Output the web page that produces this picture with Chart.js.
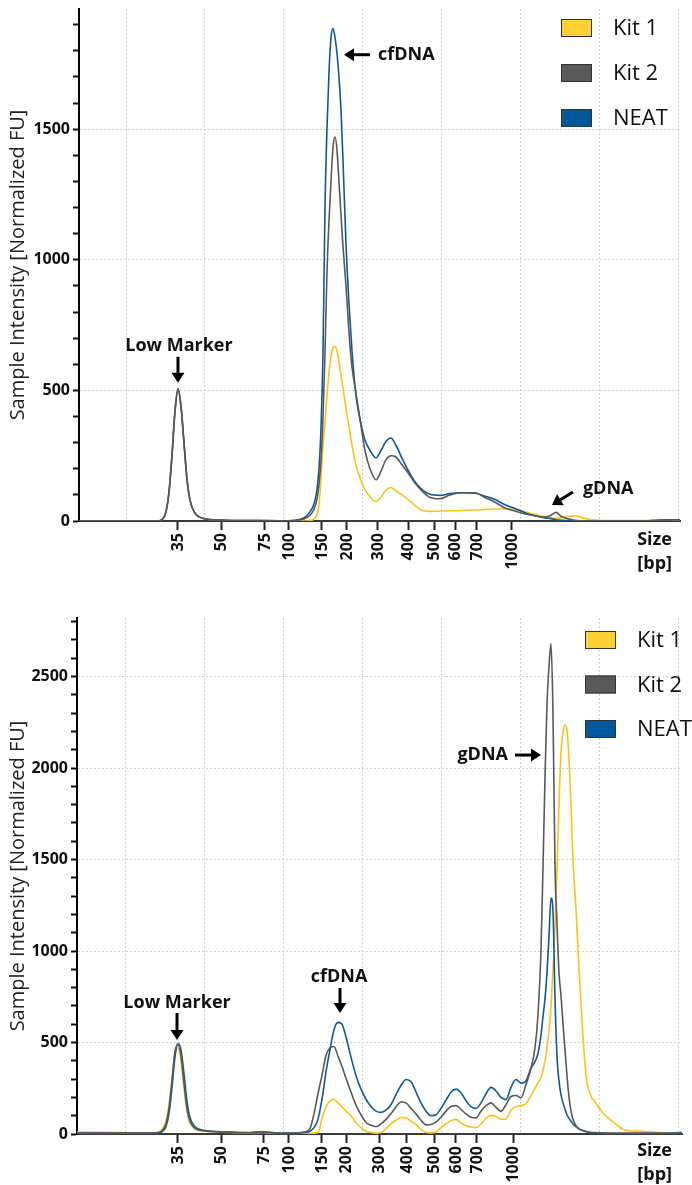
<!DOCTYPE html>
<html>
<head>
<meta charset="utf-8">
<script src="https://cdn.jsdelivr.net/npm/chart.js@4.4.1/dist/chart.umd.min.js"></script>
<style>
html,body{margin:0;padding:0;background:#fff;}
#wrap{position:relative;width:692px;height:1185px;overflow:hidden;}
#c1{position:absolute;left:0;top:0;}
#c2{position:absolute;left:0;top:580px;}
</style>
</head>
<body>
<div id="wrap">
<canvas id="c1" width="692" height="580"></canvas>
<canvas id="c2" width="692" height="605"></canvas>
</div>
<script>
// ---------- data ----------
const seriesNames = ['Kit 1', 'Kit 2', 'NEAT'];
const bpLabels = ['35','50','75','100','150','200','300','400','500','600','700','1000'];
const topBpPos = [16.58, 22.03, 27.59, 30.63, 34.81, 37.97, 41.90, 45.70, 48.99, 51.65, 54.43, 58.86];
const bottomBpPos = [16.58, 22.03, 27.47, 30.63, 34.81, 37.85, 42.03, 45.57, 48.99, 51.77, 54.43, 58.99];
const gridTimes = [10, 20, 30, 40, 50, 60, 70, 80];

// top electropherogram (migration time units)
const topTime = [4.05, 9.24, 13.04, 14.05, 14.56, 15.06, 15.44, 15.82, 16.20, 16.58,
  16.96, 17.34, 17.72, 18.10, 18.73, 19.37, 20.63, 22.53, 25.70, 29.49,
  31.39, 32.66, 33.29, 33.80, 34.18, 34.43, 34.68, 34.94, 35.19, 35.44,
  35.70, 35.95, 36.20, 36.46, 36.71, 36.96, 37.22, 37.47, 37.85, 38.23,
  38.61, 39.11, 39.62, 40.25, 40.89, 41.65, 42.28, 42.91, 43.54, 44.18,
  44.94, 45.70, 46.58, 47.47, 48.48, 49.75, 51.01, 52.53, 54.18, 55.44,
  56.71, 57.97, 59.24, 60.51, 61.77, 63.04, 63.80, 64.43, 65.06, 65.70,
  66.46, 67.09, 67.72, 68.73, 70.00, 72.53, 75.06, 77.59, 80.13];
const topKit1 = [0, 0, 0, 0, 5, 35, 110, 250, 420, 505,
  440, 300, 160, 80, 30, 14, 6, 3, 2, 1,
  1, 0, 2, 8, 25, 60, 160, 290, 380, 480,
  570, 630, 662, 668, 650, 610, 555, 510, 430, 360,
  290, 215, 165, 120, 92, 74, 92, 118, 128, 115,
  100, 82, 60, 40, 37, 38, 39, 40, 42, 44,
  46, 47, 44, 34, 25, 16, 12, 10, 12, 16,
  19, 19, 12, 6, 3, 2, 2, 2, 3];
const topKit2 = [0, 0, 0, 0, 5, 35, 110, 250, 420, 505,
  440, 300, 160, 80, 30, 14, 6, 3, 2, 1,
  2, 10, 22, 45, 85, 140, 230, 400, 643, 950,
  1150, 1300, 1430, 1470, 1420, 1300, 1170, 1050, 900, 720,
  590, 490, 390, 270, 200, 158, 190, 235, 250, 245,
  215, 185, 145, 115, 90, 85, 100, 108, 108, 90,
  72, 50, 38, 27, 20, 15, 22, 33, 18, 10,
  5, 2, 1, 0, 0, 0, 0, 3, 5];
const topNeat = [0, 0, 0, 0, 5, 35, 110, 250, 420, 505,
  440, 300, 160, 80, 30, 14, 6, 3, 2, 1,
  3, 15, 35, 65, 120, 200, 350, 650, 1200, 1500,
  1720, 1850, 1885, 1850, 1790, 1700, 1570, 1380, 1060, 830,
  650, 480, 390, 310, 270, 242, 270, 305, 318, 290,
  240, 195, 150, 120, 102, 98, 105, 108, 106, 95,
  82, 62, 48, 32, 20, 12, 9, 5, 3, 1,
  0, 0, 0, 0, 0, 0, 0, 4, 5];

// bottom electropherogram
const bottomTime = [3.80, 9.24, 13.04, 14.05, 14.56, 15.06, 15.44, 15.82, 16.20, 16.58,
  16.96, 17.34, 17.72, 18.10, 18.73, 19.37, 20.63, 22.53, 25.70, 27.34,
  29.49, 31.39, 32.66, 33.29, 33.80, 34.30, 34.81, 35.32, 35.82, 36.33,
  36.84, 37.34, 37.85, 38.48, 39.11, 39.75, 40.38, 41.01, 41.65, 42.28,
  42.91, 43.54, 44.18, 44.81, 45.44, 46.08, 46.71, 47.34, 47.97, 48.61,
  49.24, 49.87, 50.51, 51.14, 51.77, 52.41, 53.04, 53.67, 54.30, 54.94,
  55.57, 56.20, 56.84, 57.47, 58.10, 58.73, 59.37, 60.00, 60.63, 61.27,
  61.77, 62.15, 62.53, 62.78, 63.04, 63.29, 63.54, 63.80, 64.05, 64.30,
  64.56, 64.81, 65.06, 65.32, 65.57, 65.82, 66.08, 66.33, 66.58, 66.96,
  67.34, 67.72, 68.23, 68.73, 69.37, 70.38, 71.90, 73.16, 75.06, 77.59,
  80.38];
const bottomKit1 = [10, 8, 5, 10, 25, 70, 160, 300, 440, 470,
  400, 250, 120, 60, 28, 18, 13, 10, 6, 8,
  3, 2, 3, 3, 5, 8, 85, 150, 180, 190,
  170, 148, 125, 100, 62, 35, 15, 8, 5, 8,
  30, 55, 75, 90, 88, 70, 52, 25, 8, 6,
  12, 35, 56, 72, 80, 60, 45, 38, 35, 55,
  85, 102, 95, 80, 82, 130, 150, 155, 165, 210,
  250, 280, 310, 345, 400, 470, 560, 700, 900, 1115,
  1450, 1800, 2080, 2200, 2235, 2210, 2050, 1800, 1500, 1230,
  900, 620, 320, 220, 175, 115, 58, 22, 15, 8,
  5];
const bottomKit2 = [5, 5, 5, 8, 18, 55, 140, 290, 450, 490,
  430, 280, 140, 70, 32, 20, 14, 11, 7, 11,
  4, 5, 12, 30, 110, 220, 320, 430, 470, 478,
  425, 370, 305, 230, 158, 105, 63, 48, 40, 55,
  80, 110, 148, 175, 170, 140, 110, 75, 50, 52,
  65, 92, 125, 150, 155, 135, 110, 92, 88, 125,
  155, 170, 145, 125, 160, 205, 210, 198, 270, 360,
  470, 650, 1000, 1450, 1950, 2350, 2550, 2680, 2300, 1480,
  1150, 880, 760, 600, 460, 320, 200, 125, 80, 45,
  28, 20, 14, 10, 8, 6, 5, 5, 5, 5,
  8];
const bottomNeat = [5, 5, 5, 6, 12, 40, 110, 250, 420, 495,
  460, 330, 180, 90, 40, 24, 16, 12, 8, 12,
  5, 5, 8, 15, 35, 80, 190, 340, 460, 570,
  610, 600, 530, 420, 320, 245, 190, 150, 125, 118,
  130, 160, 215, 265, 298, 285, 230, 170, 125, 100,
  105, 140, 185, 228, 245, 225, 182, 150, 140, 170,
  220, 255, 235, 200, 188, 255, 298, 278, 290, 360,
  395, 440, 540, 640, 740, 880, 1080, 1290, 1220, 750,
  420, 290, 215, 170, 135, 105, 85, 70, 55, 40,
  28, 20, 13, 8, 5, 3, 2, 2, 2, 3,
  5];

// ---------- style ----------
const FONT = '"Open Sans", "Noto Sans", sans-serif';
const lineColors = ['#fbc21c', '#595959', '#0c5a98'];
const legendFills = ['#ffd033', '#595959', '#00579b'];
const drawOrder = [3, 1, 2]; // Kit 2 on top, then NEAT, then Kit 1

function pts(t, v) { return t.map((x, i) => ({x: x, y: v[i]})); }

function drawArrow(ctx, x1, y1, x2, y2) {
  const a = Math.atan2(y2 - y1, x2 - x1);
  const head = 10, hw = 6.5;
  const bx = x2 - head * Math.cos(a), by = y2 - head * Math.sin(a);
  ctx.strokeStyle = '#000'; ctx.fillStyle = '#000'; ctx.lineWidth = 3;
  ctx.beginPath(); ctx.moveTo(x1, y1); ctx.lineTo(bx, by); ctx.stroke();
  ctx.beginPath();
  ctx.moveTo(x2, y2);
  ctx.lineTo(bx - hw * Math.sin(a), by + hw * Math.cos(a));
  ctx.lineTo(bx + hw * Math.sin(a), by - hw * Math.cos(a));
  ctx.closePath(); ctx.fill();
}

const overlay = {
  id: 'overlay',
  afterDraw(chart, args, o) {
    const {ctx, chartArea, scales} = chart;
    ctx.save();
    // legend
    chart.data.datasets.forEach((ds, i) => {
      const x = chartArea.right + o.legendDx;
      const y = chartArea.top + o.legendDy + i * o.legendGap;
      ctx.fillStyle = legendFills[i];
      ctx.fillRect(x, y - 9, 31, 18);
      ctx.strokeStyle = '#333'; ctx.lineWidth = 1;
      ctx.strokeRect(x + 0.5, y - 8.5, 30, 17);
      ctx.fillStyle = '#111';
      ctx.font = '22px ' + FONT;
      ctx.textAlign = 'left'; ctx.textBaseline = 'middle';
      ctx.fillText(ds.label, x + 52, y + 1);
    });
    // axis unit label
    ctx.font = 'bold 18px ' + FONT;
    ctx.fillStyle = '#111';
    ctx.textAlign = 'right'; ctx.textBaseline = 'middle';
    ctx.fillText('Size', chartArea.right + o.sizeDx, chartArea.bottom + o.sizeDy);
    ctx.fillText('[bp]', chartArea.right + o.sizeDx, chartArea.bottom + o.sizeDy + 24);
    // annotations
    o.notes.forEach(n => {
      const px = scales.x.getPixelForValue(n.x);
      const py = scales.y.getPixelForValue(n.y);
      drawArrow(ctx, px + n.ax, py + n.ay, px, py);
      ctx.font = 'bold 18px ' + FONT;
      ctx.fillStyle = '#111';
      ctx.textAlign = n.align; ctx.textBaseline = 'middle';
      ctx.fillText(n.text, px + n.tx, py + n.ty);
    });
    ctx.restore();
  }
};

function makeChart(id, c) {
  const datasets = [c.kit1, c.kit2, c.neat].map((v, i) => ({
    label: seriesNames[i],
    data: pts(c.time, v),
    borderColor: lineColors[i],
    borderWidth: 1.6,
    pointRadius: 0,
    fill: false,
    order: drawOrder[i],
    cubicInterpolationMode: 'monotone',
    tension: 0.4
  }));
  return new Chart(document.getElementById(id), {
    type: 'line',
    data: {datasets},
    plugins: [overlay],
    options: {
      responsive: false,
      animation: false,
      events: [],
      layout: {padding: {top: c.padTop, right: c.padRight, left: 0, bottom: 0}},
      plugins: {
        legend: {display: false},
        tooltip: {enabled: false},
        overlay: c.overlay
      },
      scales: {
        x: {
          type: 'linear', position: 'bottom', min: c.xMin, max: c.xMax,
          afterBuildTicks: s => { s.ticks = c.bpPos.map(v => ({value: v})); },
          afterFit: s => { s.height = c.xAxisH; s.paddingLeft = 0; s.paddingRight = 0; },
          ticks: {
            autoSkip: false, minRotation: 90, maxRotation: 90, padding: 3,
            font: {family: FONT, weight: 'bold', size: 16}, color: '#111',
            callback: v => bpLabels[c.bpPos.indexOf(v)]
          },
          grid: {drawOnChartArea: false, drawTicks: true, tickLength: 9, tickColor: '#222', tickWidth: 2},
          border: {display: true, color: '#3a3a3a', width: 2}
        },
        xg: {
          type: 'linear', position: 'top', min: c.xMin, max: c.xMax,
          afterBuildTicks: s => { s.ticks = gridTimes.map(v => ({value: v})); },
          afterFit: s => { s.height = 0; s.paddingLeft = 0; s.paddingRight = 0; },
          ticks: {display: false},
          grid: {drawOnChartArea: true, drawTicks: false, color: '#cfcfcf', lineWidth: 1},
          border: {display: false, dash: [2, 2]}
        },
        y: {
          type: 'linear', min: 0, max: c.yMax,
          afterBuildTicks: s => { const t = []; for (let v = 0; v <= c.yMax; v += 100) t.push({value: v}); s.ticks = t; },
          afterFit: s => { s.width = c.yAxisW; s.paddingTop = 0; s.paddingBottom = 0; },
          ticks: {
            autoSkip: false, padding: 3, font: {family: FONT, weight: 'bold', size: 16}, color: '#111',
            callback: v => (v % 500 === 0 ? String(v) : '')
          },
          grid: {
            color: g => (g.tick && g.tick.value > 0 && g.tick.value % 500 === 0) ? '#cfcfcf' : 'rgba(0,0,0,0)',
            tickColor: '#111', tickLength: 6, tickWidth: 2, lineWidth: 1
          },
          border: {display: true, color: '#000', width: 2, dash: [2, 2]},
          title: {
            display: true, text: 'Sample Intensity [Normalized FU]',
            font: {family: FONT, size: 20}, color: '#222', padding: {top: 6, bottom: 0}
          }
        }
      }
    }
  });
}

makeChart('c1', {
  time: topTime, kit1: topKit1, kit2: topKit2, neat: topNeat,
  bpPos: topBpPos, xMin: 4.05, xMax: 80.13, yMax: 1960,
  padTop: 9, padRight: 12, xAxisH: 59, yAxisW: 79,
  overlay: {
    legendDx: -119, legendDy: 19, legendGap: 45,
    sizeDx: -8, sizeDy: 19,
    notes: [
      {text: 'cfDNA', x: 37.6, y: 1785, ax: 26, ay: 0, tx: 34, ty: 0, align: 'left'},
      {text: 'Low Marker', x: 16.58, y: 529, ax: 0, ay: -26, tx: 1, ty: -37, align: 'center'},
      {text: 'gDNA', x: 63.92, y: 61, ax: 21, ay: -13, tx: 31, ty: -16, align: 'left'}
    ]
  }
});

makeChart('c2', {
  time: bottomTime, kit1: bottomKit1, kit2: bottomKit2, neat: bottomNeat,
  bpPos: bottomBpPos, xMin: 3.80, xMax: 80.38, yMax: 2820,
  padTop: 38, padRight: 10, xAxisH: 51, yAxisW: 77,
  overlay: {
    legendDx: -97, legendDy: 22, legendGap: 44.5,
    sizeDx: -10, sizeDy: 17,
    notes: [
      {text: 'Low Marker', x: 16.46, y: 514, ax: 0, ay: -27, tx: 0, ty: -37, align: 'center'},
      {text: 'cfDNA', x: 37.09, y: 661, ax: 0, ay: -25, tx: -1, ty: -36, align: 'center'},
      {text: 'gDNA', x: 62.53, y: 2071, ax: -26, ay: 0, tx: -33, ty: 0, align: 'right'}
    ]
  }
});
</script>
</body>
</html>
